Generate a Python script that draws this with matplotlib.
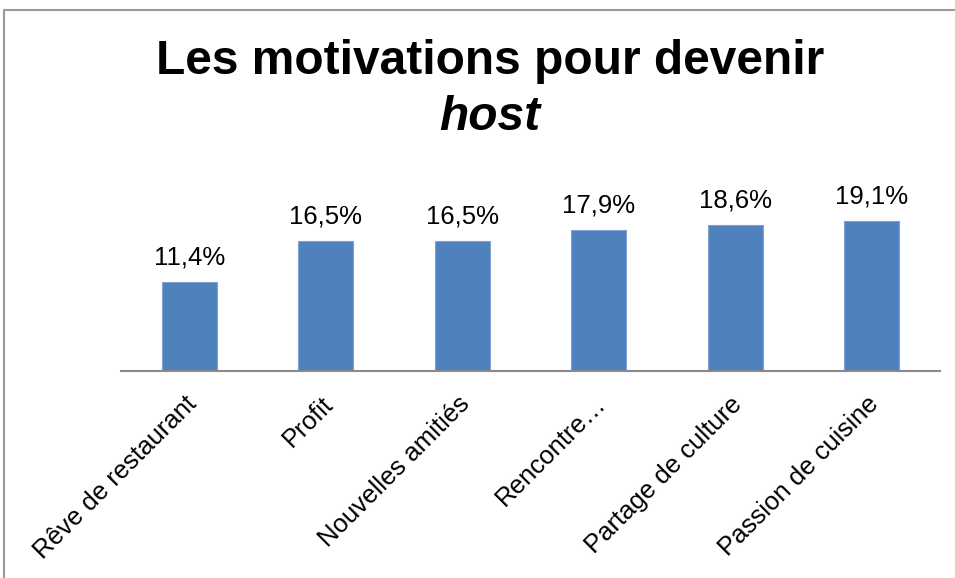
import matplotlib
matplotlib.use("Agg")
import matplotlib.pyplot as plt
from matplotlib.patches import Rectangle
import matplotlib.transforms as mtransforms

categories = ["Rêve de restaurant", "Profit", "Nouvelles amitiés",
              "Rencontre…", "Partage de culture", "Passion de cuisine"]
values = [11.4, 16.5, 16.5, 17.9, 18.6, 19.1]
title_line1 = "Les motivations pour devenir"
title_line2 = "host"

plt.rcParams['font.family'] = ['Liberation Sans', 'DejaVu Sans']

W, H = 955, 578
fig = plt.figure(figsize=(W / 100, H / 100), dpi=100)

# border of chart area (partially clipped, as in reference)
fig.patches.append(Rectangle((4 / W, -0.1), 1.2, (H - 10) / H + 0.1,
                             transform=fig.transFigure, fill=False,
                             edgecolor='#9a9a9a', linewidth=1.5))

ax_left, ax_right = 121 / W, 940 / W
ax_bottom = (H - 371) / H
ymax = 25
ax_height = ymax * 7.85 / H
ax = fig.add_axes([ax_left, ax_bottom, ax_right - ax_left, ax_height])

x = list(range(len(categories)))
bars = ax.bar(x, values, width=0.4, color='#4F81BD', edgecolor='#7fa3d3', linewidth=0.8)
ax.set_xlim(-0.5, len(categories) - 0.5)
ax.set_ylim(0, ymax)

for spine in ['top', 'right', 'left']:
    ax.spines[spine].set_visible(False)
ax.spines['bottom'].set_color('#8a8a8a')
ax.spines['bottom'].set_linewidth(1.5)
ax.set_yticks([])
ax.set_xticks(x)
ax.set_xticklabels(categories, rotation=45, ha='right', va='top',
                   rotation_mode='anchor', fontsize=18.5)
ax.tick_params(axis='x', length=0, pad=15)
for lbl in ax.get_xticklabels():
    lbl.set_transform(lbl.get_transform() + mtransforms.ScaledTranslation(-5 / 100, 0, fig.dpi_scale_trans))

for b, v in zip(bars, values):
    ax.annotate(f"{v:.1f}%".replace('.', ','), (b.get_x() + b.get_width() / 2, v),
                xytext=(0, 9), textcoords='offset points', ha='center', va='bottom',
                fontsize=18.5)

fig.text(490 / W, 1 - 62 / H, title_line1, ha='center', va='center',
         fontsize=34.5, fontweight='bold')
fig.text(490 / W, 1 - 118 / H, title_line2, ha='center', va='center',
         fontsize=34.5, fontweight='bold', fontstyle='italic')

fig.savefig("out.png", dpi=100)
